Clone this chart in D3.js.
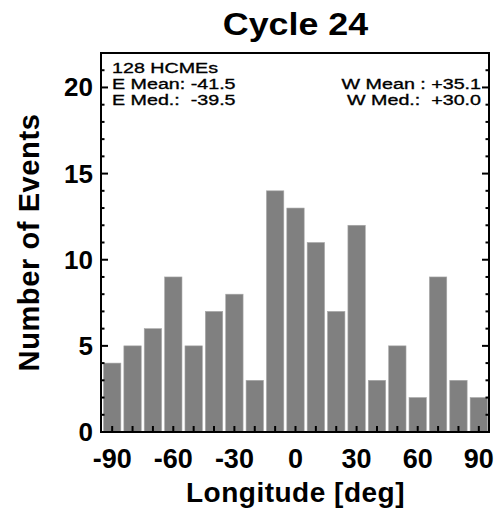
<!DOCTYPE html>
<html>
<head>
<meta charset="utf-8">
<script src="https://cdn.jsdelivr.net/npm/d3@7"></script>
<style>
  body { margin: 0; background: #fff; }
  text { font-family: "Liberation Sans", Arial, Helvetica, sans-serif; fill: #000; }
</style>
</head>
<body>
<svg id="chart" width="497" height="509"></svg>
<script>
// bin centres (deg) and counts per 10 deg bin
const binCenters = [-90, -80, -70, -60, -50, -40, -30, -20, -10, 0, 10, 20, 30, 40, 50, 60, 70, 80, 90]
const counts     = [4, 5, 6, 9, 5, 7, 8, 3, 14, 13, 11, 7, 12, 3, 5, 2, 9, 3, 2]
const xTickLabels = [-90, -60, -30, 0, 30, 60, 90]
const yTickLabels = [0, 5, 10, 15, 20]
const leftNotes  = ["128 HCMEs", "E Mean: -41.5", "E Med.:  -39.5"]
const rightNotes = ["", "W Mean : +35.1", "W Med.:  +30.0"]
const title = "Cycle 24"

const margin = {left: 101, right: 489, top: 53, bottom: 432}
const binWidth = 10

const svg = d3.select("#chart")

const x = d3.scaleLinear().domain([-95, 95]).range([margin.left + 1, margin.right])
const y = d3.scaleLinear().domain([0, 22]).range([margin.bottom, margin.top])

// helper: text stretched horizontally (the source fonts are wide)
function wideText(sel, sx){
  sel.each(function(){
    const t = d3.select(this)
    const tx = +t.attr("x"), ty = +t.attr("y")
    t.attr("x", 0).attr("y", 0)
     .attr("transform", `translate(${tx},${ty}) scale(${sx},1)`)
  })
}

// bars
svg.append("g")
  .selectAll("rect")
  .data(binCenters.map((c, i) => ({c, n: counts[i]})))
  .join("rect")
  .attr("x", d => x(d.c - binWidth / 2) + 1.5)
  .attr("width", d => x(d.c + binWidth / 2) - x(d.c - binWidth / 2) - 3)
  .attr("y", d => y(d.n))
  .attr("height", d => y(0) - y(d.n))
  .attr("fill", "#808080")
  .attr("stroke", "#a8a8a8")
  .attr("stroke-width", 0.6)

// ticks
const ticks = svg.append("g").attr("stroke", "#000").attr("stroke-width", 2)
ticks.selectAll(".xt")
  .data(binCenters)
  .join("line")
  .attr("x1", d => x(d)).attr("x2", d => x(d))
  .attr("y1", margin.bottom).attr("y2", margin.bottom - 6)

const yMinor = d3.range(0, 23)
ticks.selectAll(".yl")
  .data(yMinor)
  .join("line")
  .attr("x1", margin.left).attr("x2", d => margin.left + (d % 5 === 0 ? 7 : 3.5))
  .attr("y1", d => y(d)).attr("y2", d => y(d))
ticks.selectAll(".yr")
  .data(yMinor)
  .join("line")
  .attr("x1", margin.right).attr("x2", d => margin.right - (d % 5 === 0 ? 7 : 3.5))
  .attr("y1", d => y(d)).attr("y2", d => y(d))

// frame
svg.append("rect")
  .attr("x", margin.left).attr("y", margin.top)
  .attr("width", margin.right - margin.left)
  .attr("height", margin.bottom - margin.top)
  .attr("fill", "none").attr("stroke", "#000").attr("stroke-width", 2)

// tick labels
svg.append("g")
  .selectAll("text")
  .data(xTickLabels)
  .join("text")
  .attr("x", d => x(d)).attr("y", 468)
  .attr("text-anchor", "middle")
  .attr("font-size", 27).attr("font-weight", "bold")
  .text(d => d)

svg.append("g")
  .selectAll("text")
  .data(yTickLabels)
  .join("text")
  .attr("x", 93).attr("y", d => y(d) + 9)
  .attr("text-anchor", "end")
  .attr("font-size", 26).attr("font-weight", "bold")
  .text(d => d)

// axis titles
svg.append("text")
  .attr("x", x(0)).attr("y", 502)
  .attr("text-anchor", "middle")
  .attr("font-size", 28).attr("font-weight", "bold")
  .attr("letter-spacing", 0.5)
  .text("Longitude [deg]")

svg.append("text")
  .attr("transform", `translate(39,${(margin.top + margin.bottom) / 2}) rotate(-90)`)
  .attr("text-anchor", "middle")
  .attr("font-size", 29).attr("font-weight", "bold")
  .attr("letter-spacing", 0.6)
  .text("Number of Events")

// title
svg.append("text")
  .attr("x", x(0)).attr("y", 35)
  .attr("text-anchor", "middle")
  .attr("font-size", 32).attr("font-weight", "bold")
  .call(wideText, 1.12)
  .text(title)

// annotations (a thin stroke makes them a bit heavier, like the original)
svg.append("g")
  .selectAll("text")
  .data(leftNotes)
  .join("text")
  .attr("x", 112).attr("y", (d, i) => 73 + i * 16)
  .attr("font-size", 15.5)
  .attr("stroke", "#000").attr("stroke-width", 0.35)
  .attr("xml:space", "preserve").style("white-space", "pre")
  .text(d => d)
  .call(wideText, 1.27)

svg.append("g")
  .selectAll("text")
  .data(rightNotes)
  .join("text")
  .attr("x", 481).attr("y", (d, i) => 73 + i * 16)
  .attr("text-anchor", "end")
  .attr("font-size", 15.5)
  .attr("stroke", "#000").attr("stroke-width", 0.35)
  .attr("xml:space", "preserve").style("white-space", "pre")
  .text(d => d)
  .call(wideText, 1.27)
</script>
</body>
</html>
